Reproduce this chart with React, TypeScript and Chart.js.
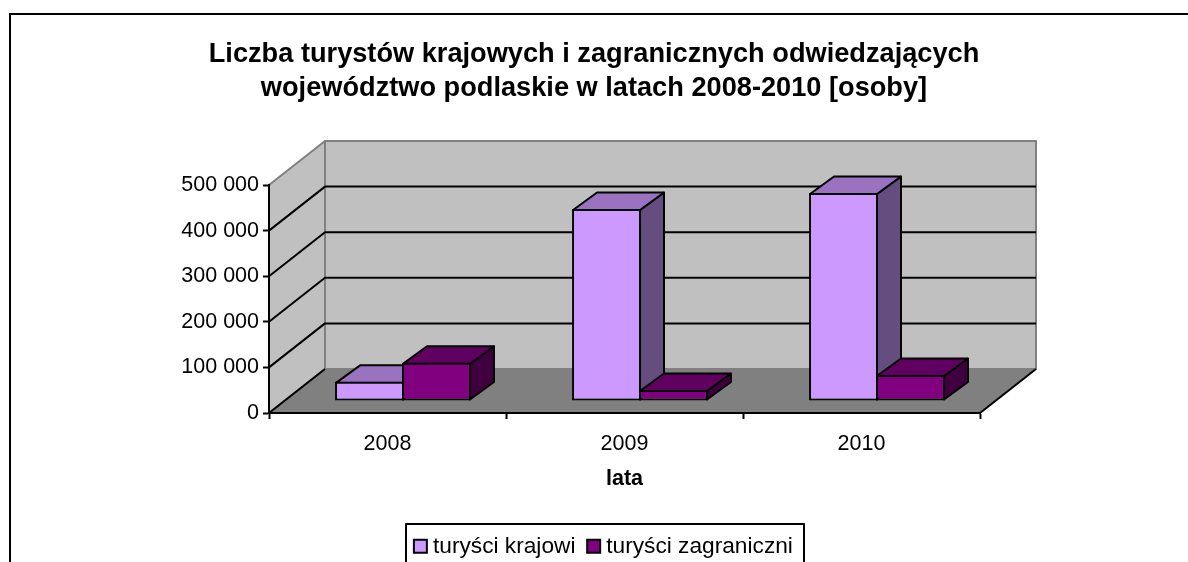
import React, { useEffect, useRef } from "react";
import { Chart, registerables } from "chart.js";

Chart.register(...registerables);

const categories = ["2008", "2009", "2010"];
const seriesNames = ["turyści krajowi", "turyści zagraniczni"];
const krajowi = [42000, 421000, 456000];
const zagraniczni = [84000, 24000, 57000];
const tickStep = 100000;
const axisMax = 500000;
const titleLines = [
  "Liczba turystów krajowych i zagranicznych odwiedzających",
  "województwo podlaskie w latach 2008-2010 [osoby]",
];
const xTitle = "lata";

const frontColors = ["#CC99FF", "#800080"];
const topColors = ["#9973BF", "#600060"];
const sideColors = ["#664D80", "#400040"];

const FONT = "'Liberation Sans', Arial, sans-serif";
const WALL = { dx: 56, dy: -44 };
const BAR_SHIFT = { dx: 15.5, dy: -12 };
const BAR_DEPTH = { dx: 24, dy: -17.5 };

function poly(ctx: CanvasRenderingContext2D, pts: number[][], fill: string | null, stroke: string | null, lw = 2) {
  ctx.beginPath();
  pts.forEach((p, i) => (i ? ctx.lineTo(p[0], p[1]) : ctx.moveTo(p[0], p[1])));
  ctx.closePath();
  if (fill) {
    ctx.fillStyle = fill;
    ctx.fill();
  }
  if (stroke) {
    ctx.strokeStyle = stroke;
    ctx.lineWidth = lw;
    ctx.lineJoin = "round";
    ctx.stroke();
  }
}

function line(ctx: CanvasRenderingContext2D, pts: number[][], stroke: string, lw = 2) {
  ctx.beginPath();
  pts.forEach((p, i) => (i ? ctx.lineTo(p[0], p[1]) : ctx.moveTo(p[0], p[1])));
  ctx.strokeStyle = stroke;
  ctx.lineWidth = lw;
  ctx.stroke();
}

const scene3d = {
  id: "scene3d",
  afterLayout(chart: any) {
    const lg = chart.legend;
    if (lg) {
      lg.left = 397;
      lg.right = 815;
      lg.top = 518;
      lg.bottom = 562;
      lg.width = 418;
    }
  },
  beforeDraw(chart: any) {
    const ctx: CanvasRenderingContext2D = chart.ctx;
    const { left, right } = chart.chartArea;
    const yS = chart.scales.y;
    const base = yS.getPixelForValue(0);
    const top = yS.getPixelForValue(axisMax);
    const { dx, dy } = WALL;
    ctx.save();
    // outer frame: the bottom and right edges fall outside the picture
    line(ctx, [[10, 570], [10, 14], [1200, 14]], "#000000", 2);
    // walls and floor
    poly(ctx, [[left, base], [left + dx, base + dy], [left + dx, top + dy], [left, top]], "#C0C0C0", "#808080");
    poly(ctx, [[left + dx, top + dy], [right + dx, top + dy], [right + dx, base + dy], [left + dx, base + dy]], "#C0C0C0", "#808080");
    poly(ctx, [[left, base], [right, base], [right + dx, base + dy], [left + dx, base + dy]], "#808080", null);
    line(ctx, [[left, base], [left + dx, base + dy]], "#000000");
    line(ctx, [[right, base], [right + dx, base + dy]], "#000000");
    // grid lines on both walls
    for (let v = tickStep; v < axisMax; v += tickStep) {
      const y = yS.getPixelForValue(v);
      line(ctx, [[left, y], [left + dx, y + dy], [right + dx, y + dy]], "#000000");
    }
    // legend box
    ctx.fillStyle = "#FFFFFF";
    ctx.fillRect(406, 524, 398, 46);
    ctx.strokeStyle = "#000000";
    ctx.lineWidth = 2;
    ctx.strokeRect(406, 524, 398, 46);
    ctx.restore();
  },
  beforeDatasetsDraw(chart: any) {
    const ctx: CanvasRenderingContext2D = chart.ctx;
    ctx.save();
    ctx.translate(BAR_SHIFT.dx, BAR_SHIFT.dy);
    const { dx, dy } = BAR_DEPTH;
    chart.data.labels.forEach((_: string, i: number) => {
      chart.data.datasets.forEach((_d: any, di: number) => {
        const el = chart.getDatasetMeta(di).data[i];
        const p = el.getProps(["x", "y", "base", "width"], true);
        const l = p.x - p.width / 2;
        const r = p.x + p.width / 2;
        poly(ctx, [[r - 1, p.y + 1], [r - 1 + dx, p.y + 1 + dy], [r - 1 + dx, p.base - 1 + dy], [r - 1, p.base - 1]], sideColors[di], "#000000");
        poly(ctx, [[l + 1, p.y + 1], [r - 1, p.y + 1], [r - 1 + dx, p.y + 1 + dy], [l + 1 + dx, p.y + 1 + dy]], topColors[di], "#000000");
      });
    });
  },
  afterDatasetsDraw(chart: any) {
    chart.ctx.restore();
  },
};

export default function App() {
  const ref = useRef<HTMLCanvasElement | null>(null);
  useEffect(() => {
    if (!ref.current) return;
    const chart = new Chart(ref.current, {
      type: "bar",
      data: {
        labels: categories,
        datasets: [
          {
            label: seriesNames[0],
            data: krajowi,
            backgroundColor: frontColors[0],
            borderColor: "#000000",
            borderWidth: 2,
            borderSkipped: false,
          },
          {
            label: seriesNames[1],
            data: zagraniczni,
            backgroundColor: frontColors[1],
            borderColor: "#000000",
            borderWidth: 2,
            borderSkipped: false,
          },
        ],
      },
      options: {
        responsive: false,
        animation: false,
        events: [],
        layout: { padding: 0 },
        datasets: { bar: { barPercentage: 1.03, categoryPercentage: 0.565, clip: false } },
        plugins: {
          tooltip: { enabled: false },
          title: {
            display: true,
            text: titleLines,
            color: "#000000",
            font: { family: FONT, size: 27.2, weight: "bold", lineHeight: 1.25 },
            padding: { top: 38, bottom: 79 },
          },
          legend: {
            display: true,
            position: "bottom",
            labels: {
              color: "#000000",
              font: { family: FONT, size: 22.7 },
              usePointStyle: true,
              pointStyle: "rect",
              boxWidth: 2.5,
              boxHeight: 13,
              padding: 17,
            },
          },
        },
        scales: {
          x: {
            grid: { drawOnChartArea: false, drawTicks: true, tickLength: 6, tickWidth: 2, tickColor: "#000000", color: "#000000" },
            border: { display: true, color: "#000000", width: 2 },
            ticks: { color: "#000000", font: { family: FONT, size: 21.5 }, padding: 12, maxRotation: 0 },
            title: {
              display: true,
              text: xTitle,
              color: "#000000",
              font: { family: FONT, size: 21.5, weight: "bold" },
              padding: { top: 0, bottom: 20 },
            },
            afterFit(scale: any) {
              scale.height = 149 - (scale.chart.legend?.height ?? 0);
            },
          },
          y: {
            min: 0,
            max: axisMax,
            grid: { drawOnChartArea: false, drawTicks: true, tickLength: 6, tickWidth: 2, tickColor: "#000000", color: "#000000" },
            border: { display: true, color: "#000000", width: 2 },
            ticks: {
              stepSize: tickStep,
              color: "#000000",
              font: { family: FONT, size: 21.5 },
              padding: 4,
              callback: (v: any) => String(v).replace(/\B(?=(\d{3})+$)/g, " "),
            },
            afterFit(scale: any) {
              scale.width = 269;
            },
          },
          spacer: {
            type: "linear",
            position: "right",
            display: true,
            grid: { display: false },
            border: { display: false },
            ticks: { display: false },
            afterFit(scale: any) {
              scale.width = 208;
            },
          },
        },
      } as any,
      plugins: [scene3d],
    });
    return () => chart.destroy();
  }, []);
  return (
    <div style={{ position: "absolute", left: 0, top: 0, width: 1188, height: 562, background: "#FFFFFF", overflow: "hidden" }}>
      <canvas ref={ref} width={1188} height={562} style={{ display: "block" }} />
    </div>
  );
}
